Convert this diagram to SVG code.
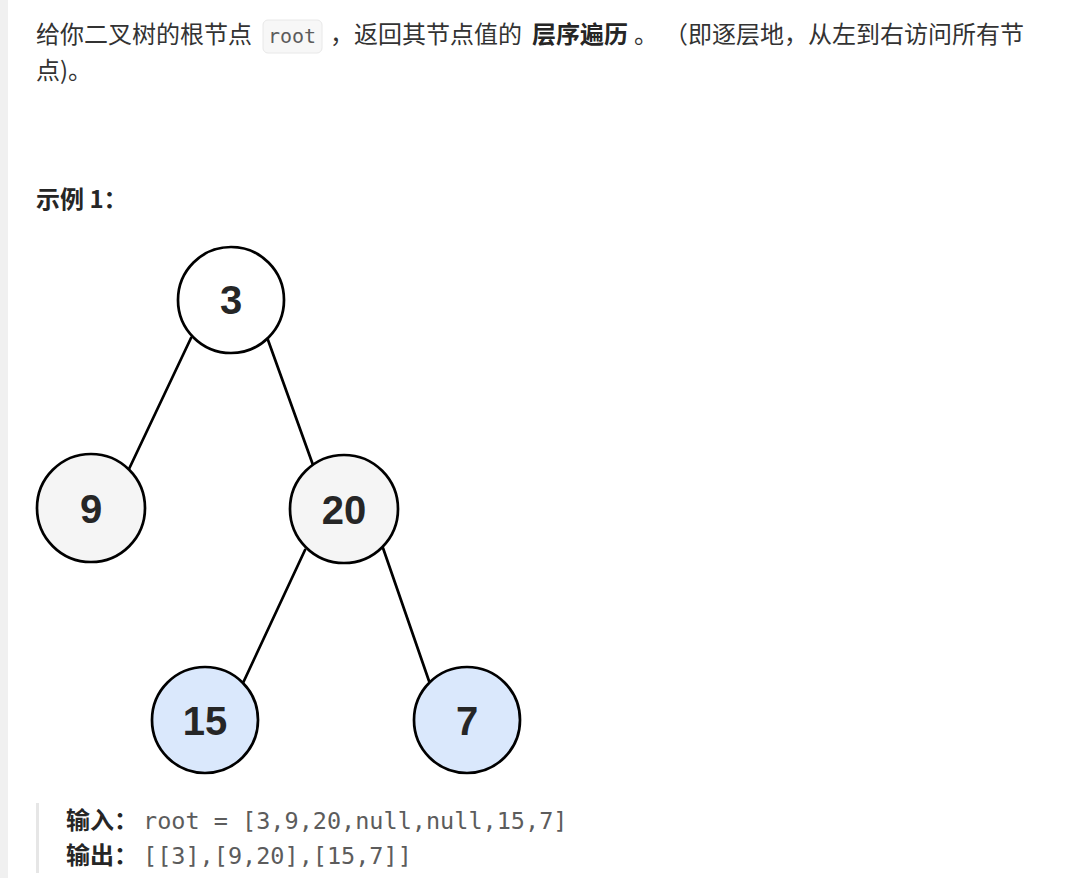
<svg xmlns="http://www.w3.org/2000/svg" width="1082" height="878" viewBox="0 0 1082 878">
  <style>
    .cjk { font-family: "Noto Sans CJK SC", "Noto Sans", sans-serif; font-size: 24px; fill: #333333; }
    .bold { font-weight: bold; fill: #262626; }
    .mono { font-family: "DejaVu Sans Mono", "Liberation Mono", monospace; fill: #5c5c5c; }
    .node circle { stroke: #000000; stroke-width: 2.7; }
    .node text { font-family: "Liberation Sans", Arial, sans-serif; font-weight: bold; font-size: 40px; text-anchor: middle; fill: #262626; }
    .edge { stroke: #000000; stroke-width: 2.7; stroke-linecap: round; fill: none; }
  </style>
  <rect x="0" y="0" width="1082" height="878" fill="#ffffff"/>
  <rect x="0" y="0" width="8" height="878" fill="#f0f0f0"/>

  <!-- description text -->
  <g id="description">
    <text class="cjk" x="36" y="43">给你二叉树的根节点</text>
    <rect x="263" y="20" width="59" height="33" rx="5" ry="5" fill="#f7f7f7" stroke="#e8e8e8" stroke-width="1"/>
    <text class="mono" x="268" y="43" font-size="20">root</text>
    <text class="cjk" x="330" y="43">，返回其节点值的</text>
    <text class="cjk bold" x="532" y="43">层序遍历</text>
    <text class="cjk" x="634" y="43">。</text>
    <text class="cjk" x="664" y="43">（即逐层地，从左到右访问所有节</text>
    <text class="cjk" x="36" y="79">点)。</text>
  </g>

  <g id="example-title">
    <text class="cjk bold" x="36" y="208">示例 1：</text>
  </g>

  <!-- connectors -->
  <g id="connectors">
    <line class="edge" x1="191" y1="338" x2="129" y2="469"/>
    <line class="edge" x1="268" y1="340" x2="313" y2="465"/>
    <line class="edge" x1="305" y1="550" x2="243" y2="683"/>
    <line class="edge" x1="383" y1="548" x2="429" y2="681"/>
  </g>

  <!-- nodes -->
  <g id="node-3" class="node">
    <circle cx="231" cy="300" r="53" fill="#ffffff"/>
    <text x="231" y="314">3</text>
  </g>
  <g id="node-9" class="node">
    <circle cx="91" cy="508" r="54" fill="#f5f5f5"/>
    <text x="91" y="523">9</text>
  </g>
  <g id="node-20" class="node">
    <circle cx="344" cy="509" r="54" fill="#f5f5f5"/>
    <text x="344" y="524">20</text>
  </g>
  <g id="node-15" class="node">
    <circle cx="205" cy="720" r="53" fill="#dae8fc"/>
    <text x="205" y="735">15</text>
  </g>
  <g id="node-7" class="node">
    <circle cx="467" cy="720" r="53" fill="#dae8fc"/>
    <text x="467" y="735">7</text>
  </g>

  <!-- example block -->
  <g id="example-io">
    <rect x="36" y="803" width="3" height="70" fill="#e6e6e6"/>
    <text class="cjk bold" x="66" y="829">输入：</text>
    <text class="mono" x="143" y="829" font-size="23.5">root = [3,9,20,null,null,15,7]</text>
    <text class="cjk bold" x="66" y="864">输出：</text>
    <text class="mono" x="143" y="864" font-size="23.5">[[3],[9,20],[15,7]]</text>
  </g>
</svg>
